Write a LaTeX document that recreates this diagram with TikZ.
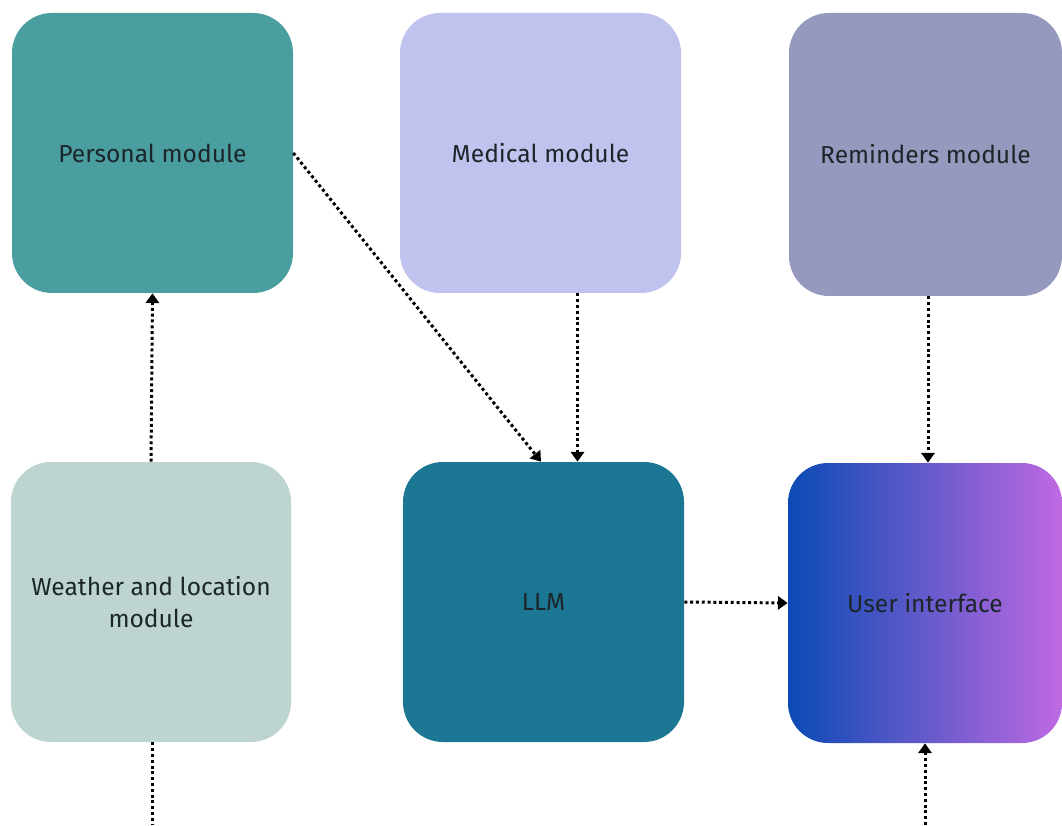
\documentclass[tikz,border=0pt]{standalone}
\usepackage{fontspec}
\setmainfont{Fira Sans}
\usetikzlibrary{arrows.meta}

\definecolor{personal}{RGB}{74,158,160}
\definecolor{medical}{RGB}{191,195,238}
\definecolor{reminders}{RGB}{150,153,190}
\definecolor{weather}{RGB}{189,212,209}
\definecolor{llm}{RGB}{27,119,147}
\definecolor{uileft}{RGB}{10,74,180}
\definecolor{uiright}{RGB}{192,106,226}
\definecolor{ink}{RGB}{28,38,42}

\tikzset{
    module/.style={rounded corners=0.8cm, minimum width=5.62cm, minimum height=5.6cm,
        align=center, text=ink, font=\fontsize{14}{18}\selectfont, inner sep=0pt},
    flow/.style={line width=1.7pt, dash pattern=on 1.7pt off 1.6pt,
        -{Triangle[length=5.5pt,width=7.5pt]}}
}

\begin{document}
\begin{tikzpicture}
            \useasboundingbox (0,0) rectangle (21.24,16.5);
            % top row
            \node[module, fill=personal] (P) at (3.05,13.44) {Personal module};
            \node[module, fill=medical] (M) at (10.81,13.44) {Medical module};
            \node[module, fill=reminders, minimum width=5.46cm, minimum height=5.66cm] (R) at (18.51,13.41) {Reminders module};
            % bottom row
            \node[module, fill=weather, minimum width=5.6cm] (W) at (3.02,4.46) {Weather and location\\module};
            \node[module, fill=llm] (L) at (10.87,4.46) {LLM};
            \node[module, left color=uileft, right color=uiright, minimum width=5.48cm] (U) at (18.5,4.44) {User interface};
            % loose ends at the bottom
            \coordinate (wb) at (3.05,0);
            \coordinate (ub) at (18.5,0);
            \coordinate (mt) at ([xshift=0.74cm]M.south);

            \draw[flow] (P.east) -- ([xshift=-0.05cm]L.north);
            \draw[flow] (mt) -- (mt |- L.north);
            \draw[flow] ([xshift=0.05cm]R.south) -- ([xshift=0.06cm]U.north);
            \draw[flow] (W.north) -- (P.south);
            \draw[flow] (L.east) -- (U.west);
            \draw[flow, -] (wb |- W.south) -- (wb);
            \draw[flow] (ub) -- (ub |- U.south);
        \end{tikzpicture}
\end{document}
